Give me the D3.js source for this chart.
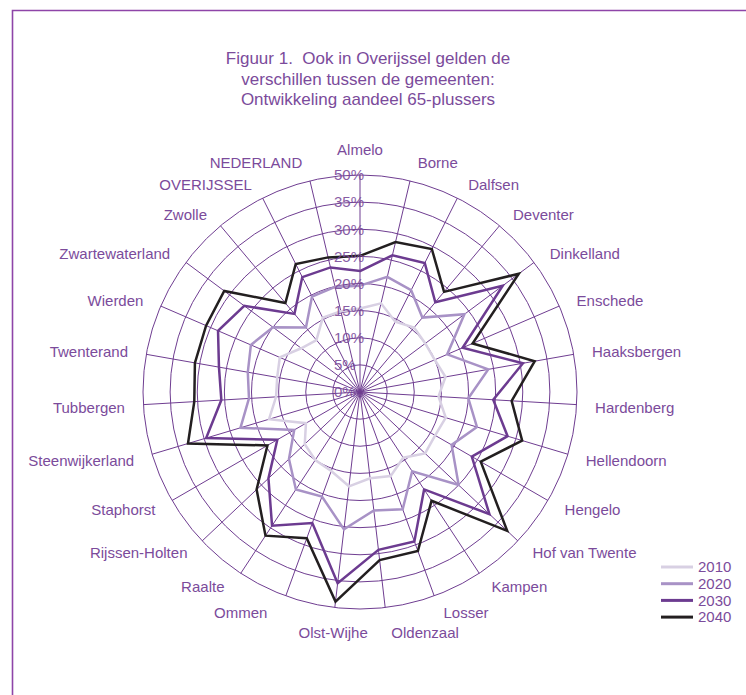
<!DOCTYPE html>
<head><meta charset="utf-8"/></head>
<style>
body { margin: 0; background: #fff; }
svg { display: block; }
text { font-family: "Liberation Sans", Arial, sans-serif; fill: #7b4b9b; }
.grid { fill: none; stroke: #6f3d91; stroke-width: 1; }
.series { fill: none; stroke-linejoin: miter; }
.title { white-space: pre; }
</style>
<script src="https://d3js.org/d3.v7.min.js"></script>
<body>
<div id="chart"></div>
</body>
<script>

// municipalities, clockwise from the top
var categories = ["Almelo", "Borne", "Dalfsen", "Deventer", "Dinkelland", "Enschede",
    "Haaksbergen", "Hardenberg", "Hellendoorn", "Hengelo", "Hof van Twente", "Kampen",
    "Losser", "Oldenzaal", "Olst-Wijhe", "Ommen", "Raalte", "Rijssen-Holten", "Staphorst",
    "Steenwijkerland", "Tubbergen", "Twenterand", "Wierden", "Zwartewaterland", "Zwolle",
    "OVERIJSSEL", "NEDERLAND"];

// share of 65+ (%)
var v2010 = [15.4, 16.8, 14.5, 15.5, 15.0, 15.0, 16.0, 14.5, 16.5, 16.0, 16.5, 14.5, 16.5,
    16.0, 17.5, 15.5, 15.0, 14.0, 11.5, 17.5, 15.5, 15.5, 16.1, 13.5, 12.5, 15.3, 15.3];
var v2020 = [19.6, 21.8, 21.0, 17.9, 24.0, 17.5, 24.0, 20.0, 22.5, 19.5, 25.0, 17.5, 23.0,
    22.0, 25.5, 20.5, 21.5, 18.0, 14.0, 23.0, 20.5, 21.0, 21.9, 20.0, 15.5, 19.7, 19.9];
var v2030 = [22.3, 25.9, 26.6, 21.6, 32.8, 20.6, 30.5, 24.6, 28.4, 23.8, 32.8, 21.5, 29.3,
    29.3, 35.5, 25.7, 29.5, 23.2, 17.6, 29.6, 25.6, 26.4, 28.5, 26.6, 18.8, 23.7, 23.6];
var v2040 = [25.1, 28.4, 29.5, 24.1, 36.5, 22.6, 32.7, 28.0, 31.2, 25.7, 37.3, 24.0, 31.2,
    31.2, 38.9, 28.7, 31.7, 26.2, 19.7, 33.1, 30.6, 30.9, 30.9, 31.2, 21.4, 26.4, 25.5];

var years = ["2010", "2020", "2030", "2040"];
var seriesValues = [v2010, v2020, v2030, v2040];
var colors = ["#d8d0e3", "#a892c6", "#6c3b90", "#231f20"];

var ticks = [0, 5, 10, 15, 20, 25, 30, 35, 40];
var tickLabels = ["0%", "5%", "10%", "15%", "20%", "25%", "30%", "35%", "50%"];

var titleLines = ["Figuur 1.  Ook in Overijssel gelden de",
    "verschillen tussen de gemeenten:",
    "Ontwikkeling aandeel 65-plussers"];

var width = 746, height = 695,
    cx = 360, cy = 392;

var svg = d3.select("#chart").append("svg")
    .attr("width", width)
    .attr("height", height);

// frame (top and left edge only)
svg.append("path")
    .attr("d", "M12.5," + height + "V10.5H" + width)
    .attr("fill", "none")
    .attr("stroke", "#8e45a8")
    .attr("stroke-width", 1.6);

var r = d3.scaleLinear().domain([0, 40]).range([0, 217]);
var step = 2 * Math.PI / categories.length;
function ang(i) { return i * step; }

var g = svg.append("g").attr("transform", "translate(" + cx + "," + cy + ")");

// rings
g.selectAll(".ring")
    .data(ticks.slice(1))
    .enter().append("circle")
    .attr("class", "grid")
    .attr("r", function(d) { return r(d); });

// spokes
g.selectAll(".spoke")
    .data(categories)
    .enter().append("line")
    .attr("class", "grid")
    .attr("x1", 0).attr("y1", 0)
    .attr("x2", function(d, i) { return r(40) * Math.sin(ang(i)); })
    .attr("y2", function(d, i) { return -r(40) * Math.cos(ang(i)); });

// series
var line = d3.lineRadial()
    .angle(function(d, i) { return ang(i); })
    .radius(function(d) { return r(d); })
    .curve(d3.curveLinearClosed);

g.selectAll(".series")
    .data(seriesValues)
    .enter().append("path")
    .attr("class", "series")
    .attr("d", line)
    .attr("stroke", function(d, i) { return colors[i]; })
    .attr("stroke-width", 2.5);

// axis tick labels
g.selectAll(".tick")
    .data(ticks)
    .enter().append("text")
    .attr("x", -26)
    .attr("y", function(d) { return -r(d); })
    .attr("dy", "0.35em")
    .style("font-size", "15px")
    .style("opacity", 0.9)
    .text(function(d, i) { return tickLabels[i]; });

// category labels
var labelR = 231;
g.selectAll(".cat")
    .data(categories)
    .enter().append("text")
    .attr("x", function(d, i) {
        var s = Math.sin(ang(i)), c = Math.cos(ang(i));
        var pad = 0;
        if (s > 0.05) pad = 4.5;
        else if (s < -0.15) pad = -4.5 - 12 * Math.max(0, -c - 0.75) / 0.25;
        return labelR * s + pad;
    })
    .attr("y", function(d, i) {
        var c = Math.cos(ang(i));
        return -(labelR * c + 11 * Math.pow(c, 31)) + (c < 0 ? 2 : 0);
    })
    .attr("dy", "0.35em")
    .attr("text-anchor", function(d, i) {
        var s = Math.sin(ang(i));
        if (s > 0.05) return "start";
        if (s < -0.15) return "end";
        return "middle";
    })
    .style("font-size", "15px")
    .text(function(d) { return d; });

// title
svg.selectAll(".title")
    .data(titleLines)
    .enter().append("text")
    .attr("class", "title")
    .attr("x", 368)
    .attr("y", function(d, i) { return 64 + i * 20.5; })
    .attr("text-anchor", "middle")
    .style("font-size", "17px")
    .text(function(d) { return d; });

// legend
var legend = svg.append("g").attr("transform", "translate(661,567)");
var item = legend.selectAll(".item")
    .data(years)
    .enter().append("g")
    .attr("transform", function(d, i) { return "translate(0," + (i * 16.7) + ")"; });
item.append("line")
    .attr("x1", 0).attr("x2", 32)
    .attr("stroke", function(d, i) { return colors[i]; })
    .attr("stroke-width", 3);
item.append("text")
    .attr("x", 37)
    .attr("dy", "0.35em")
    .style("font-size", "15px")
    .text(function(d) { return d; });

</script>
